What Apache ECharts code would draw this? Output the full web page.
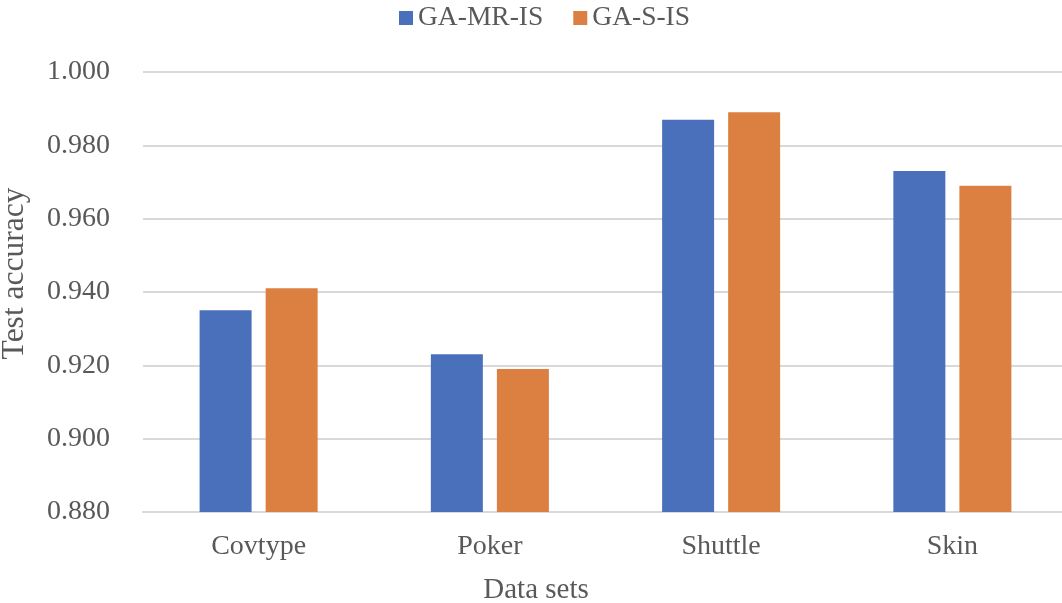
<!DOCTYPE html>
<html>
<head>
<meta charset="utf-8">
<script src="https://cdn.jsdelivr.net/npm/echarts@6/dist/echarts.min.js"></script>
<style>
html,body{margin:0;padding:0;background:#fff;}
#chart{width:1062px;height:603px;}
</style>
</head>
<body>
<div id="chart"></div>
<script>
const categories = ['Covtype', 'Poker', 'Shuttle', 'Skin'];
const seriesNames = ['GA-MR-IS', 'GA-S-IS'];
const gaMrIs = [0.935, 0.923, 0.987, 0.973];
const gaSIs = [0.941, 0.919, 0.989, 0.969];
const yMin = 0.88, yMax = 1.0, yStep = 0.02;

const FONT = 'Liberation Serif';
const TXT = '#595959';
const chart = echarts.init(document.getElementById('chart'), null, {renderer: 'canvas'});
chart.setOption({
  animation: false,
  backgroundColor: '#ffffff',
  textStyle: {fontFamily: FONT, color: TXT},
  legend: {
    top: -1, left: 394,
    itemWidth: 14, itemHeight: 14, itemGap: 30,
    icon: 'rect',
    textStyle: {fontFamily: FONT, fontSize: 27.5, color: TXT},
    data: seriesNames
  },
  grid: {left: 143, top: 72, width: 925, bottom: 91, containLabel: false, outerBoundsMode: 'none'},
  xAxis: {
    type: 'category',
    data: categories,
    axisLine: {show: true, lineStyle: {color: '#d9d9d9', width: 2}},
    axisTick: {show: false},
    axisLabel: {fontFamily: FONT, fontSize: 28, color: TXT, margin: 21},
    name: 'Data sets',
    nameLocation: 'middle',
    nameGap: 64,
    nameTextStyle: {fontFamily: FONT, fontSize: 29, color: TXT, padding: [0, 139, 0, 0]}
  },
  yAxis: {
    type: 'value',
    min: yMin, max: yMax, interval: yStep,
    axisLine: {show: false},
    axisTick: {show: false},
    splitLine: {lineStyle: {color: '#d9d9d9', width: 2}},
    axisLabel: {fontFamily: FONT, fontSize: 28, color: TXT, margin: 33,
      formatter: v => v.toFixed(3)},
    name: 'Test accuracy',
    nameLocation: 'middle',
    nameGap: 112,
    nameRotate: 90,
    nameTextStyle: {fontFamily: FONT, fontSize: 31.5, color: TXT, padding: [0, 0, 0, 37]}
  },
  series: [
    {name: seriesNames[0], type: 'bar', data: gaMrIs, barWidth: 52, barGap: '27%',
     itemStyle: {color: '#4a70bb'}},
    {name: seriesNames[1], type: 'bar', data: gaSIs, barWidth: 52, barGap: '27%',
     itemStyle: {color: '#dc8042'}}
  ]
});
</script>
</body>
</html>
